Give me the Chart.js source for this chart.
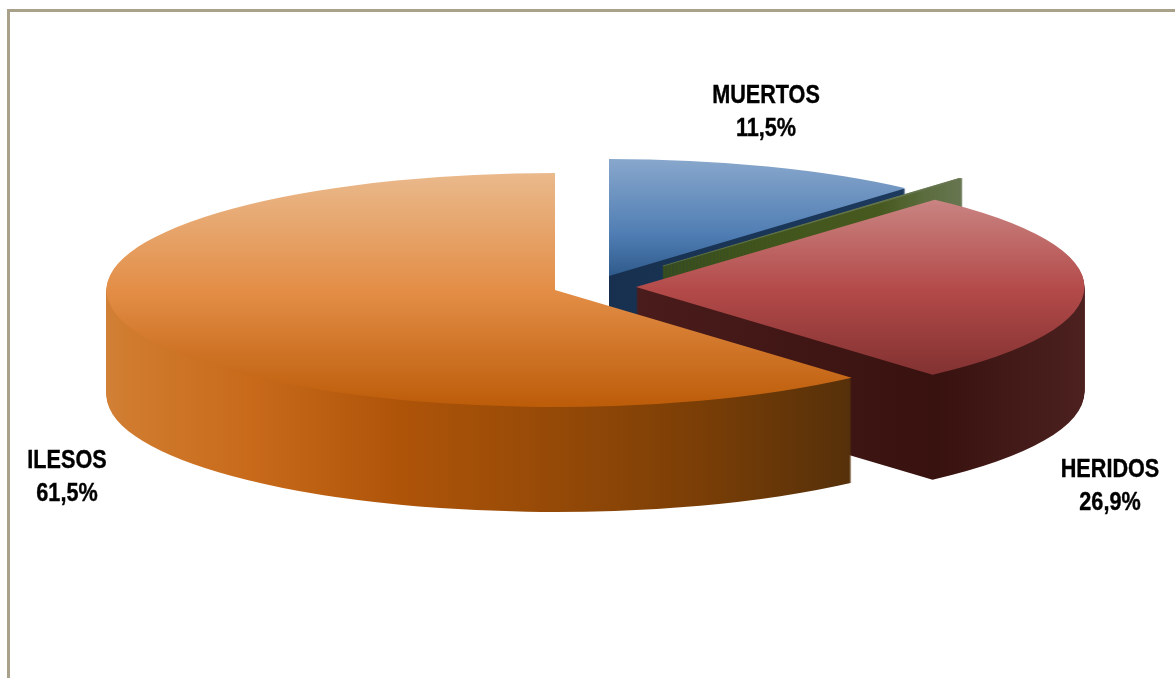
<!DOCTYPE html>
<html><head><meta charset="utf-8">
<style>
html,body{margin:0;padding:0;background:#fff;overflow:hidden;width:1175px;height:678px}
#frame{position:absolute;left:7px;top:9px;width:1200px;height:700px;border-top:3px solid #a9a18a;border-left:3px solid #a9a18a;box-sizing:border-box}
#c{position:absolute;left:0;top:0;filter:blur(0.5px)}
</style>
<script src="https://cdn.jsdelivr.net/npm/chart.js@4"></script>
</head><body>
<div id="frame"></div>
<canvas id="c" width="1175" height="678"></canvas>
<script>
const categories = ['MUERTOS', '', 'HERIDOS', 'ILESOS'];
const percentages = [11.5, 0.1, 26.9, 61.5];

// projection of the flat pie into its tilted, extruded view
const view = {cx: 555, cy: 290, rx: 448.5, ry: 117, depth: 105};
const explode = [[54, -14], [108, -24], [81, -3], [0, 0]];
const topShades = [
  [[159,'#88a7cc'],[235,'#4f7db3'],[276,'#2f5a8c']],
  [[178,'#66754f'],[270,'#5a6e3c']],
  [[200,'#c98482'],[290,'#b34a49'],[373,'#833232']],
  [[173,'#eab98c'],[290,'#e38e47'],[405,'#bd5d0a']]
];
const wallShades = [
  [[609,'#17304f'],[907,'#1c3a5e']],
  [[663,'#3d5216'],[880,'#47591f'],[925,'#5b6c3e'],[961,'#66754f']],
  [[636,'#4a1c1b'],[935,'#38120f'],[1085,'#4c2120']],
  [[107,'#d18036'],[130,'#d07b2e'],[250,'#c86a1a'],[400,'#ae5409'],[550,'#964a07'],[700,'#7a3e06'],[853,'#55300a']]
];
const labelSpots = [[766, 96], null, [1110, 470], [67, 461]];
const lineGap = 33;

const pie3d = {
  id: 'pie3d',
  beforeDatasetsDraw(chart) {
    const ctx = chart.ctx;
    const arcs = chart.getDatasetMeta(0).data;
    arcs.forEach((el, i) => {
      const r = el.outerRadius;
      const sx = view.rx / r, sy = view.ry / r;
      const cx = view.cx + explode[i][0], cy = view.cy + explode[i][1];
      const ux = X => el.x + (X - cx) / sx;
      const uy = Y => el.y + (Y - cy) / sy;
      const thin = percentages[i] < 1;
      const paint = (fill, edge) => {
        const saved = el.options;
        el.options = Object.assign({}, saved, {
          backgroundColor: fill,
          borderColor: fill,
          borderWidth: edge ? 1.5 : 0
        });
        el.draw(ctx);
        el.options = saved;
      };
      const wall = wallShades[i];
      const wx0 = wall[0][0], wx1 = wall[wall.length - 1][0];
      const wg = ctx.createLinearGradient(ux(wx0), 0, ux(wx1), 0);
      wall.forEach(s => wg.addColorStop((s[0] - wx0) / (wx1 - wx0), s[1]));
      for (let d = view.depth; d >= 1; d--) {
        ctx.save();
        ctx.translate(cx, cy + d);
        ctx.scale(sx, sy);
        ctx.translate(-el.x, -el.y);
        paint(wg, thin);
        ctx.restore();
      }
      const shade = topShades[i];
      const ty0 = shade[0][0], ty1 = shade[shade.length - 1][0];
      const tg = ctx.createLinearGradient(0, uy(ty0), 0, uy(ty1));
      shade.forEach(s => tg.addColorStop((s[0] - ty0) / (ty1 - ty0), s[1]));
      ctx.save();
      ctx.translate(cx, cy);
      ctx.scale(sx, sy);
      ctx.translate(-el.x, -el.y);
      paint(tg, thin);
      ctx.restore();
    });
    return false;
  },
  afterDraw(chart) {
    const ctx = chart.ctx;
    ctx.save();
    ctx.fillStyle = '#000';
    ctx.strokeStyle = '#000';
    ctx.lineWidth = 0.4;
    ctx.font = 'bold 25px "Liberation Sans", Arial, sans-serif';
    ctx.textAlign = 'center';
    ctx.textBaseline = 'middle';
    categories.forEach((name, i) => {
      if (!labelSpots[i]) return;
      const [x, y] = labelSpots[i];
      const pct = percentages[i].toFixed(1).replace('.', ',') + '%';
      [name, pct].forEach((t, k) => {
        ctx.save();
        ctx.translate(x, y + k * lineGap);
        ctx.scale(0.865, 1);
        ctx.fillText(t, 0, 0);
        ctx.strokeText(t, 0, 0);
        ctx.restore();
      });
    });
    ctx.restore();
  }
};

new Chart(document.getElementById('c'), {
  type: 'pie',
  data: {
    labels: categories,
    datasets: [{data: percentages, backgroundColor: ['#4f7db3', '#5a6e3c', '#b34a49', '#e38e47'], borderWidth: 0}]
  },
  options: {
    responsive: false,
    animation: false,
    events: [],
    plugins: {legend: {display: false}, tooltip: {enabled: false}}
  },
  plugins: [pie3d]
});
</script>
</body></html>
